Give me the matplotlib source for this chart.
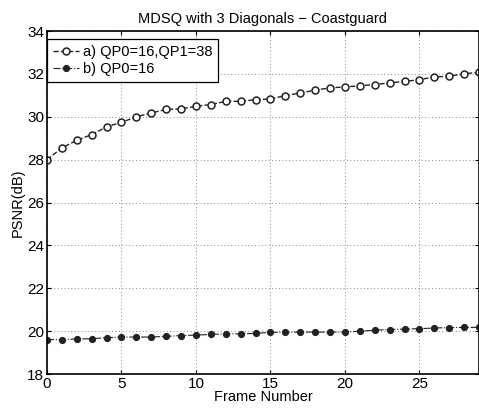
import numpy as np
import matplotlib
matplotlib.use('Agg')
import matplotlib.pyplot as plt

plt.rcParams['font.family'] = ['Liberation Sans', 'DejaVu Sans']

frames = np.arange(30)
psnr_a = [28.00, 28.55, 28.90, 29.17, 29.53, 29.74, 30.00, 30.18, 30.34, 30.37,
          30.49, 30.57, 30.72, 30.72, 30.80, 30.83, 30.99, 31.11, 31.24, 31.35,
          31.39, 31.45, 31.50, 31.58, 31.65, 31.73, 31.86, 31.89, 32.01, 32.07]
psnr_b = [19.61, 19.61, 19.64, 19.65, 19.70, 19.73, 19.73, 19.73, 19.76, 19.80,
          19.82, 19.85, 19.88, 19.88, 19.90, 19.95, 19.95, 19.96, 19.96, 19.96,
          19.96, 20.00, 20.05, 20.08, 20.10, 20.12, 20.15, 20.17, 20.18, 20.18]
label_a = 'a) QP0=16,QP1=38'
label_b = 'b) QP0=16'

fig = plt.figure(figsize=(4.79, 4.08), dpi=100)
ax = fig.add_axes([0.098, 0.083, 0.902, 0.841])

ax.plot(frames, psnr_a, color='#222222', linestyle='--', linewidth=1.0,
        marker='o', markersize=5, markerfacecolor='white',
        markeredgecolor='#222222', markeredgewidth=1.1, label=label_a)
ax.plot(frames, psnr_b, color='#222222', linestyle='-.', linewidth=0.8,
        marker='o', markersize=4.2, markerfacecolor='#222222',
        markeredgecolor='#222222', label=label_b)

ax.set_xlim(0, 29)
ax.set_ylim(18, 34)
ax.set_xticks([0, 5, 10, 15, 20, 25])
ax.set_yticks(np.arange(18, 35, 2))
ax.tick_params(direction='in', length=3, labelsize=11, top=True, right=True,
               pad=2)
ax.grid(True, linestyle=(0, (1, 2.5)), color='#888888', linewidth=0.7)
for s in ax.spines.values():
    s.set_linewidth(1.2)

ax.set_xlabel('Frame Number', fontsize=10.5, labelpad=-1)
ax.set_ylabel('PSNR(dB)', fontsize=10.5, labelpad=2)
ax.set_title('MDSQ with 3 Diagonals \u2212 Coastguard', fontsize=10.5, pad=6)

leg = ax.legend(loc='upper left', bbox_to_anchor=(0, 0.977), fontsize=10.5,
                fancybox=False, edgecolor='black', framealpha=1,
                borderaxespad=0, handlelength=1.8, handletextpad=0.25,
                borderpad=0.4, labelspacing=0.25)
leg.get_frame().set_linewidth(0.9)

fig.savefig('out.png', dpi=100)
